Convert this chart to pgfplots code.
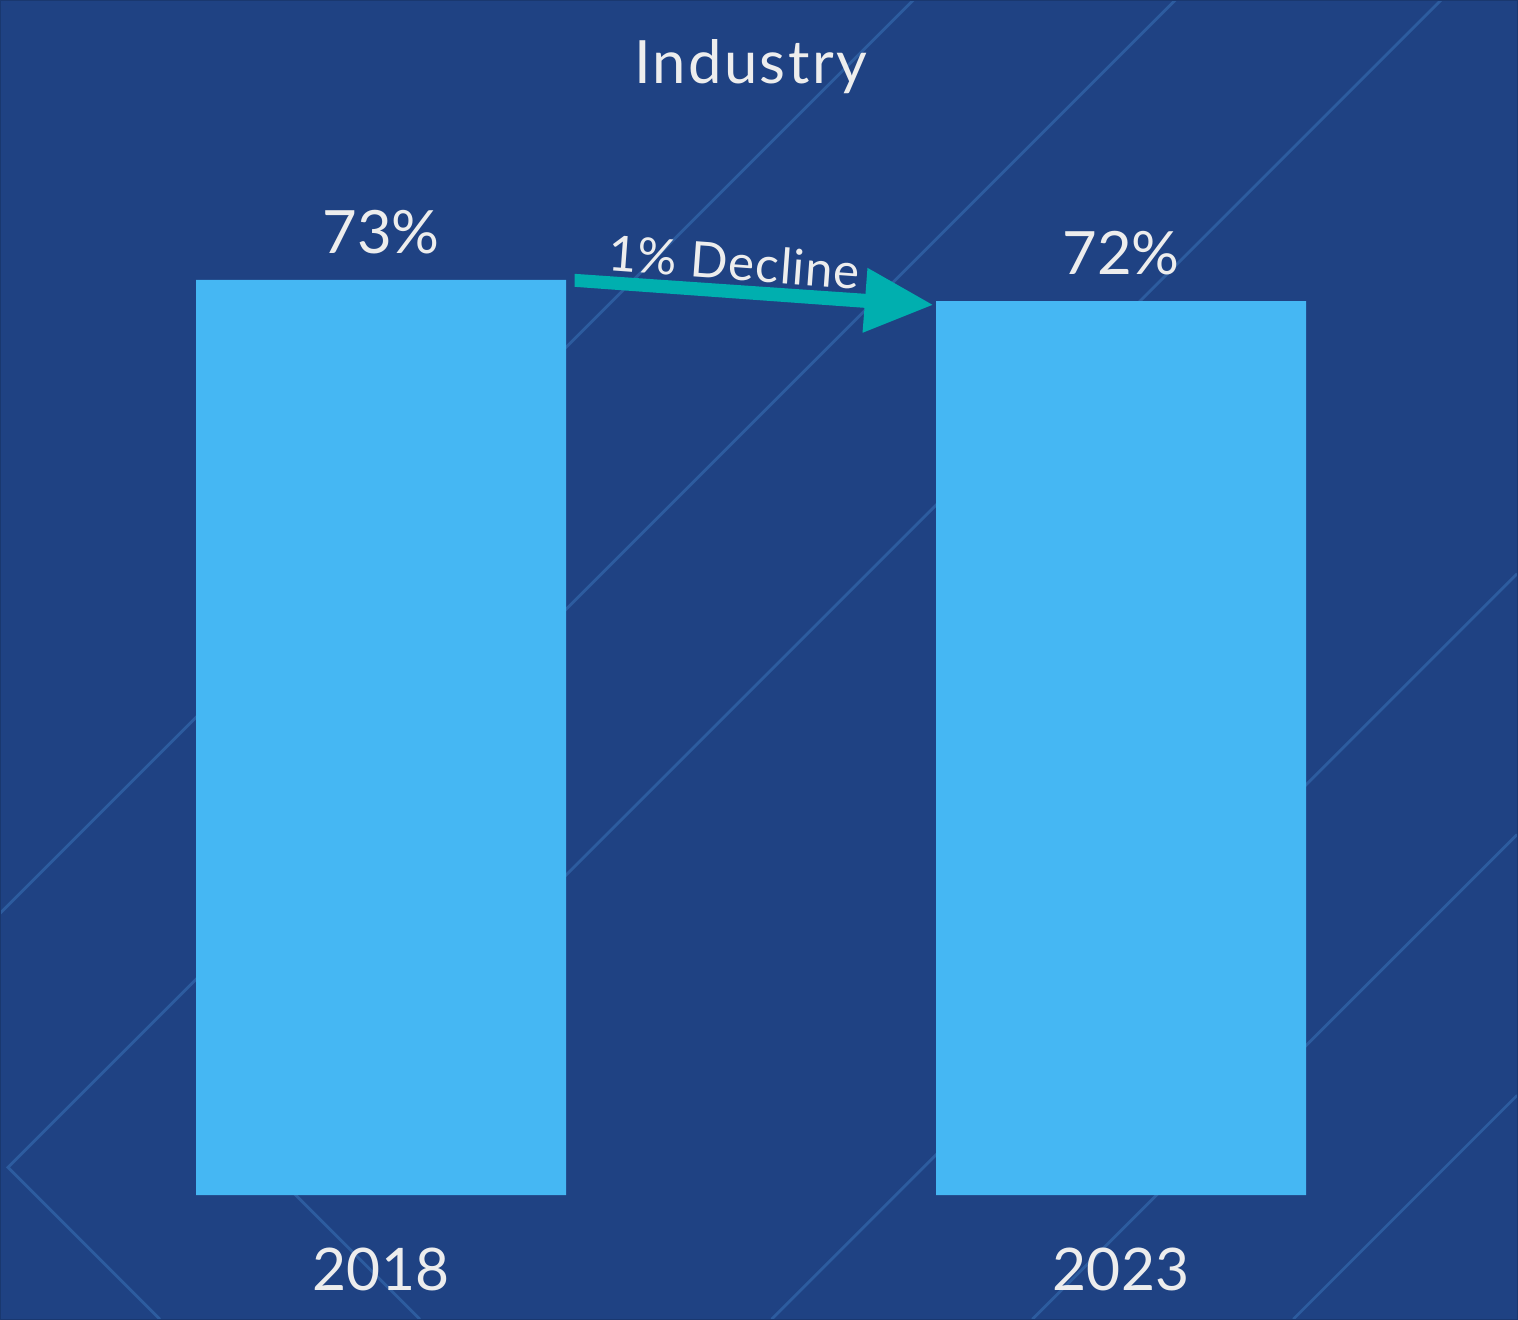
\documentclass[border=0pt]{standalone}
\usepackage{pgfplots}
\pgfplotsset{compat=1.18}
\usepackage{fontspec}
\setmainfont{Lato}
\definecolor{bg}{HTML}{1F4283}
\definecolor{barblue}{HTML}{45B7F3}
\definecolor{arrowteal}{HTML}{00AFAF}
\definecolor{txt}{HTML}{EDEDED}
\definecolor{deco}{HTML}{2D5C9F}
\definecolor{edge}{HTML}{1A386F}
\begin{document}
\begin{tikzpicture}
\path[use as bounding box] (0,0) rectangle (15.18,-13.2);
\fill[bg] (0,0) rectangle (15.18,-13.2);
\begin{scope}[x=0.01cm,y=-0.01cm,deco,line width=0.8pt]
 \draw (0,914) -- (914,0);
 \draw (160,1320) -- (8,1168) -- (1176,0);
 \draw (420,1320) -- (271,1171) -- (1442,0);
 \draw (772,1320) -- (1518,574);
 \draw (1033,1320) -- (1518,835);
 \draw (1294,1320) -- (1518,1096);
\end{scope}
\begin{axis}[
 at={(0.11cm,-11.95cm)}, anchor=south west,
 scale only axis, width=14.8cm, height=11.235cm,
 xmin=-0.5, xmax=1.5, ymin=0, ymax=90,
 ybar, bar width=3.7cm,
 axis line style={draw=none}, ytick=\empty,
 xtick={0,1}, xticklabels={\mbox{2018},\mbox{2023}},
 major tick length=0pt,
 xticklabel style={text=txt, font=\fontsize{16.7}{20}\selectfont, anchor=base, inner sep=0pt, yshift=-0.95cm},
 /pgf/number format/assume math mode=true,
 nodes near coords={\pgfmathprintnumber[fixed,precision=0]{\pgfplotspointmeta}\%},
 every node near coord/.append style={text=txt, font=\fontsize{17}{20}\selectfont, inner sep=0pt, yshift=0.25cm},
 clip=false,
]
\addplot[fill=barblue, draw=none] coordinates {(0,73.3) (1,71.6)};
\end{axis}
\node[text=txt, anchor=base, font=\fontsize{17}{20}\selectfont\addfontfeature{LetterSpace=4}] at (7.505,-0.84) {Industry};
\node[text=txt, anchor=base, rotate=-4.2, font=\fontsize{14}{17}\selectfont\addfontfeature{LetterSpace=2}] at (7.33,-2.80) {1\% Decline};
\begin{scope}[x=0.01cm,y=-0.01cm]
 \fill[arrowteal] (575,274) -- (866,294) -- (868,268) -- (933,305) -- (863,333) -- (865,308) -- (575,287) -- cycle;
\end{scope}
\draw[edge, line width=0.03cm] (0,0) rectangle (15.18,-13.2);
\end{tikzpicture}
\end{document}
